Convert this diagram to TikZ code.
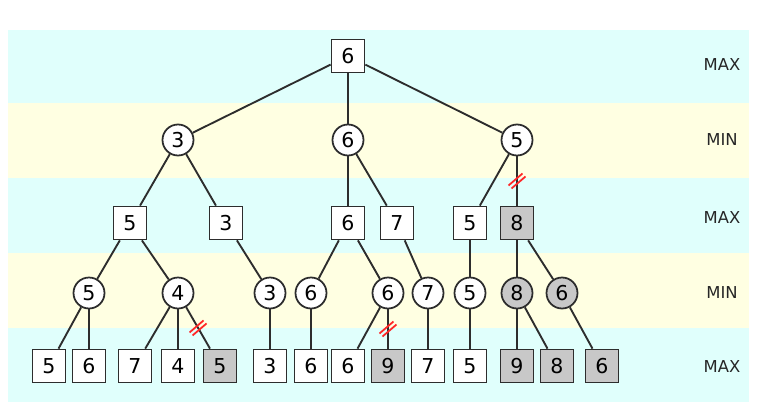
\documentclass[tikz,border=0pt]{standalone}
\usepackage{fontspec}
\setmainfont{DejaVu Sans}
\usetikzlibrary{positioning}
\usepackage{xcolor}
\definecolor{bandmax}{RGB}{224,255,252}
\definecolor{bandmin}{RGB}{255,255,226}
\definecolor{prunedgray}{RGB}{200,200,200}
\definecolor{linegray}{RGB}{45,45,45}

\begin{document}
\begin{tikzpicture}[x=0.03cm,y=-0.03cm,
maxbox/.style={rectangle,draw=linegray,line width=1.5pt,fill=white,minimum size=0.99cm,inner sep=0pt,font=\fontsize{17.5}{20}\selectfont},
minball/.style={circle,draw=linegray,line width=1.5pt,fill=white,minimum size=0.93cm,inner sep=0pt,font=\fontsize{17.5}{20}\selectfont},
cutoff/.style={fill=prunedgray},
levelname/.style={font=\fontsize{14}{16}\selectfont,text=black!85},
edge/.style={draw=linegray,line width=1.6pt},
cutmark/.style={red!85!white,line width=1.5pt}
]
\useasboundingbox (0,0) rectangle (762,411);
% bands
\fill[bandmax] (8,30) rectangle (749,103);
\fill[bandmin] (8,103) rectangle (749,178);
\fill[bandmax] (8,178) rectangle (749,253);
\fill[bandmin] (8,253) rectangle (749,328);
\fill[bandmax] (8,328) rectangle (749,402);
\node[levelname] (lv1) at (722,65) {MAX};
\node[levelname] (lv2) at (722,140) {MIN};
\node[levelname] (lv3) at (722,218) {MAX};
\node[levelname] (lv4) at (722,293) {MIN};
\node[levelname] (lv5) at (722,367) {MAX};
% tree
\node[maxbox] (root) at (348,56) {6};
\node[minball] (b1) at (178,140) {3};
\node[minball] (b2) at (348,140) {6};
\node[minball] (b3) at (517,140) {5};
\node[maxbox] (c1) at (130,223) {5};
\node[maxbox] (c2) at (226,223) {3};
\node[maxbox] (c3) at (348,223) {6};
\node[maxbox] (c4) at (397,223) {7};
\node[maxbox] (c5) at (470,223) {5};
\node[maxbox,cutoff] (c6) at (517,223) {8};
\node[minball] (d1) at (89,293) {5};
\node[minball] (d2) at (178,293) {4};
\node[minball] (d3) at (270,293) {3};
\node[minball] (d4) at (311,293) {6};
\node[minball] (d5) at (388,293) {6};
\node[minball] (d6) at (428,293) {7};
\node[minball] (d7) at (470,293) {5};
\node[minball,cutoff] (d8) at (517,293) {8};
\node[minball,cutoff] (d9) at (562,293) {6};
\node[maxbox] (e1) at (49,366) {5};
\node[maxbox] (e2) at (89,366) {6};
\node[maxbox] (e3) at (135,366) {7};
\node[maxbox] (e4) at (178,366) {4};
\node[maxbox,cutoff] (e5) at (220,366) {5};
\node[maxbox] (e6) at (270,366) {3};
\node[maxbox] (e7) at (311,366) {6};
\node[maxbox] (e8) at (348,366) {6};
\node[maxbox,cutoff] (e9) at (388,366) {9};
\node[maxbox] (e10) at (428,366) {7};
\node[maxbox] (e11) at (470,366) {5};
\node[maxbox,cutoff] (e12) at (517,366) {9};
\node[maxbox,cutoff] (e13) at (557,366) {8};
\node[maxbox,cutoff] (e14) at (602,366) {6};
% edges
\draw[edge] (root)--(b1);
\draw[edge] (root)--(b2);
\draw[edge] (root)--(b3);
\draw[edge] (b1)--(c1);
\draw[edge] (b1)--(c2);
\draw[edge] (b2)--(c3);
\draw[edge] (b2)--(c4);
\draw[edge] (b3)--(c5);
\draw[edge] (b3)-- coordinate (cutC) (c6);
\draw[edge] (c1)--(d1);
\draw[edge] (c1)--(d2);
\draw[edge] (c2)--(d3);
\draw[edge] (c3)--(d4);
\draw[edge] (c3)--(d5);
\draw[edge] (c4)--(d6);
\draw[edge] (c5)--(d7);
\draw[edge] (c6)--(d8);
\draw[edge] (c6)--(d9);
\draw[edge] (d1)--(e1);
\draw[edge] (d1)--(e2);
\draw[edge] (d2)--(e3);
\draw[edge] (d2)--(e4);
\draw[edge] (d2)-- coordinate (cutA) (e5);
\draw[edge] (d3)--(e6);
\draw[edge] (d4)--(e7);
\draw[edge] (d5)--(e8);
\draw[edge] (d5)-- coordinate (cutB) (e9);
\draw[edge] (d6)--(e10);
\draw[edge] (d7)--(e11);
\draw[edge] (d8)--(e12);
\draw[edge] (d8)--(e13);
\draw[edge] (d9)--(e14);
% pruned branches
\foreach \c in {cutA,cutB,cutC}{
  \draw[cutmark] ([shift={(-8.5,4.5)}]\c) -- ([shift={(5.5,-7.5)}]\c);
  \draw[cutmark] ([shift={(-5.5,7.5)}]\c) -- ([shift={(8.5,-4.5)}]\c);
}
\end{tikzpicture}
\end{document}
